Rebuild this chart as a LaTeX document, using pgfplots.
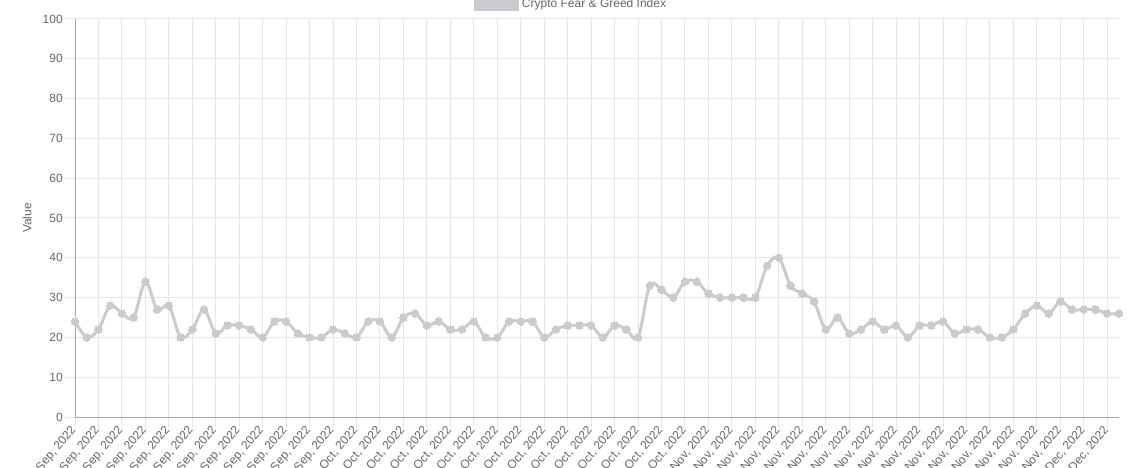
\documentclass[border=0pt]{standalone}
\usepackage{fontspec}
\setmainfont{Liberation Sans}
\usepackage{pgfplots}
\pgfplotsset{compat=1.18}
\usepackage{pgfplotstable}

\definecolor{linegray}{RGB}{201,203,207}
\definecolor{txt}{HTML}{666666}
\definecolor{gridc}{HTML}{E5E5E5}
\definecolor{axisln}{HTML}{A6A6A6}

% daily index values, Sep - Dec 2022
\pgfplotstableread{
x y
0 24
1 20
2 22
3 28
4 26
5 25
6 34
7 27
8 28
9 20
10 22
11 27
12 21
13 23
14 23
15 22
16 20
17 24
18 24
19 21
20 20
21 20
22 22
23 21
24 20
25 24
26 24
27 20
28 25
29 26
30 23
31 24
32 22
33 22
34 24
35 20
36 20
37 24
38 24
39 24
40 20
41 22
42 23
43 23
44 23
45 20
46 23
47 22
48 20
49 33
50 32
51 30
52 34
53 34
54 31
55 30
56 30
57 30
58 30
59 38
60 40
61 33
62 31
63 29
64 22
65 25
66 21
67 22
68 24
69 22
70 23
71 20
72 23
73 23
74 24
75 21
76 22
77 22
78 20
79 20
80 22
81 26
82 28
83 26
84 29
85 27
86 27
87 27
88 26
89 26
}\fng

\begin{document}
\begin{tikzpicture}
\begin{axis}[
    at={(0,0)}, anchor=south west,
    scale only axis, width=783pt, height=298.5pt,
    xmin=0, xmax=89, ymin=0, ymax=100,
    clip=false,
    axis x line*=bottom, axis y line*=left,
    axis line style={draw=axisln, line width=0.75pt},
    xtick={0,2,...,88},
    xticklabels={{Sep, 2022},{Sep, 2022},{Sep, 2022},{Sep, 2022},{Sep, 2022},{Sep, 2022},
        {Sep, 2022},{Sep, 2022},{Sep, 2022},{Sep, 2022},{Sep, 2022},{Sep, 2022},
        {Oct, 2022},{Oct, 2022},{Oct, 2022},{Oct, 2022},{Oct, 2022},{Oct, 2022},
        {Oct, 2022},{Oct, 2022},{Oct, 2022},{Oct, 2022},{Oct, 2022},{Oct, 2022},
        {Oct, 2022},{Oct, 2022},{Oct, 2022},
        {Nov, 2022},{Nov, 2022},{Nov, 2022},{Nov, 2022},{Nov, 2022},{Nov, 2022},
        {Nov, 2022},{Nov, 2022},{Nov, 2022},{Nov, 2022},{Nov, 2022},{Nov, 2022},
        {Nov, 2022},{Nov, 2022},{Nov, 2022},{Nov, 2022},
        {Dec, 2022},{Dec, 2022}},
    ytick={0,10,...,100},
    grid=major,
    grid style={draw=gridc, line width=0.75pt},
    tick align=outside, major tick length=7.5pt,
    tick style={draw=gridc, line width=0.75pt},
    /pgf/number format/assume math mode=true,
    tick label style={text=txt, font=\fontsize{9}{11}\selectfont},
    xticklabel style={rotate=50, anchor=east, inner sep=1pt},
    yticklabel style={inner sep=1.5pt},
    ylabel={Value},
    ylabel style={at={(axis description cs:-0.046,0.5)}, anchor=center,
        text=txt, font=\fontsize{9}{11}\selectfont},
    legend style={at={(0.4756,1.0377)}, anchor=center, draw=none, fill=none,
        inner sep=0pt, text=txt, font=\fontsize{9}{11}\selectfont},
    legend image code/.code={\fill[linegray] (0pt,-4.5pt) rectangle (31.5pt,4.5pt);},
]
\addplot[linegray, line width=2.25pt, smooth, tension=0.55,
    mark=*, mark size=2.8pt,
    mark options={fill=linegray, draw=linegray, line width=0pt}] table {\fng};
\addlegendentry{Crypto Fear \& Greed Index}
\end{axis}
\pgfresetboundingbox
\path ([shift={(-56.25pt,-37.5pt)}]current axis.south west)
    rectangle ([shift={(21.75pt,14.25pt)}]current axis.north east);
\end{tikzpicture}
\end{document}
